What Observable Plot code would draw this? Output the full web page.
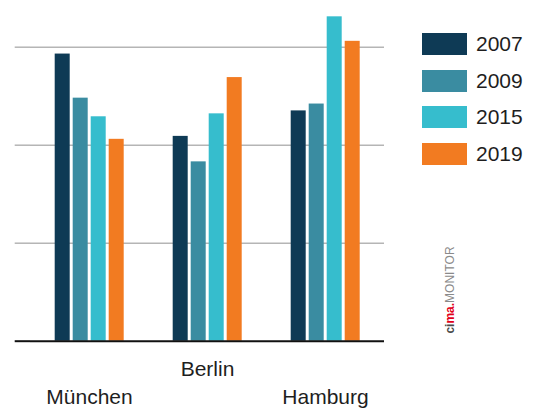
<!DOCTYPE html>
<html>
<head>
<meta charset="utf-8">
<script src="https://cdn.jsdelivr.net/npm/d3@7"></script>
<script src="https://cdn.jsdelivr.net/npm/@observablehq/plot@0.6"></script>
<style>
  html, body { margin: 0; padding: 0; background: #fff; }
  #wrap { position: relative; width: 535px; height: 410px; font-family: "Liberation Sans", Arial, sans-serif; }
  #chart { position: absolute; left: 0; top: 0; }
  #legend { position: absolute; left: 422px; top: 33px; }
  .item { display: flex; align-items: center; height: 22px; margin-bottom: 14.7px; }
  .sw { width: 45px; height: 22px; margin-right: 9px; }
  .lab { font-size: 21px; color: #1e1e1e; }
  #brand { position: absolute; left: 449.5px; top: 290px; transform: translate(-50%, -50%) rotate(-90deg); white-space: nowrap; font-size: 12px; line-height: 12px; }
  #brand .c { color: #4a4a4a; font-weight: bold; }
  #brand .m { color: #e2001a; font-weight: bold; }
  #brand .t { color: #8a8a8a; }
</style>
</head>
<body>
<div id="wrap">
  <div id="chart"></div>
  <div id="legend"></div>
  <div id="brand"><span class="c">ci</span><span class="m">ma.</span><span class="t">MONITOR</span></div>
</div>
<script>
const cities = ["München", "Berlin", "Hamburg"];
const years = ["2007", "2009", "2015", "2019"];
const colors = ["#0e3a55", "#3a8ca1", "#36bdcd", "#f27b21"];
const v2007 = [2.93, 2.09, 2.35];
const v2009 = [2.48, 1.83, 2.42];
const v2015 = [2.29, 2.32, 3.31];
const v2019 = [2.06, 2.69, 3.06];
const gridValues = [1, 2, 3];
const upperLabels = ["Berlin"];
const lowerLabels = ["München", "Hamburg"];

const series = [v2007, v2009, v2015, v2019];
const data = [];
cities.forEach((c, i) => years.forEach((y, j) => data.push({city: c, year: y, value: series[j][i]})));

const plot = Plot.plot({
  width: 400,
  height: 410,
  marginLeft: 29.3,
  marginRight: 15.5,
  marginTop: 7.5,
  marginBottom: 69.3,
  style: {fontFamily: "'Liberation Sans', Arial, sans-serif", fontSize: "21px", color: "#1e1e1e", background: "transparent"},
  fx: {domain: cities, padding: 0, label: null, axis: null},
  x: {domain: years, paddingInner: 0.14, paddingOuter: 1.26, axis: null},
  y: {domain: [0, 3.4], label: null},
  color: {domain: years, range: colors},
  marks: [
    Plot.axisY(gridValues, {tickSize: 15.3, tickFormat: () => "", stroke: "#b5b5b5", strokeWidth: 1.5, label: null}),
    Plot.ruleY(gridValues, {stroke: "#b5b5b5", strokeWidth: 1.5}),
    Plot.barY(data, {fx: "city", x: "year", y: "value", fill: "year"}),
    Plot.axisY([0], {tickSize: 15.3, tickFormat: () => "", stroke: "#111", strokeWidth: 2, label: null}),
    Plot.ruleY([0], {stroke: "#111", strokeWidth: 2}),
    Plot.text(upperLabels, {fx: d => d, text: d => d, frameAnchor: "bottom", lineAnchor: "top", dy: 20, fontSize: 21, fill: "#1e1e1e"}),
    Plot.text(lowerLabels, {fx: d => d, text: d => d, frameAnchor: "bottom", lineAnchor: "top", dy: 47.6, fontSize: 21, fill: "#1e1e1e"})
  ]
});
document.getElementById("chart").appendChild(plot);

const color = plot.scale("color");
const legend = document.getElementById("legend");
years.forEach(y => {
  const item = document.createElement("div");
  item.className = "item";
  const sw = document.createElement("div");
  sw.className = "sw";
  sw.style.background = color.apply(y);
  const lab = document.createElement("span");
  lab.className = "lab";
  lab.textContent = y;
  item.appendChild(sw);
  item.appendChild(lab);
  legend.appendChild(item);
});
</script>
</body>
</html>
